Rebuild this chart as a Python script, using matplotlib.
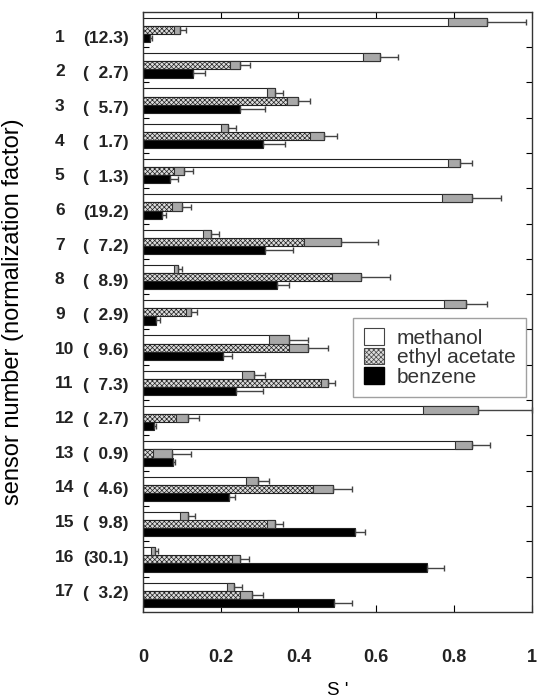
#!/usr/bin/env python3
"""
Normalized sensor responses S' of a 17-sensor array to three solvent vapours,
grouped horizontal bars with error bars, normalization factor shown per sensor.
"""

import matplotlib
matplotlib.use('Agg')
import matplotlib.pyplot as plt
import numpy as np

plt.rcParams['font.family'] = ['Liberation Sans', 'DejaVu Sans']
plt.rcParams['hatch.linewidth'] = 0.5

# ──────────────────────────────────────────────
# data
# ──────────────────────────────────────────────

SENSORS = list(range(1, 18))
FACTORS = [12.3, 2.7, 5.7, 1.7, 1.3, 19.2, 7.2, 8.9, 2.9, 9.6, 7.3, 2.7, 0.9, 4.6, 9.8, 30.1, 3.2]

METHANOL = [0.885, 0.61, 0.34, 0.22, 0.815, 0.845, 0.175, 0.09, 0.83,
            0.375, 0.285, 0.86, 0.847, 0.295, 0.115, 0.03, 0.235]
METHANOL_ERR = [0.10, 0.045, 0.02, 0.02, 0.03, 0.075, 0.02, 0.01, 0.055,
                0.05, 0.03, 0.14, 0.045, 0.03, 0.02, 0.008, 0.02]

ETHYL = [0.095, 0.25, 0.40, 0.465, 0.105, 0.10, 0.51, 0.56, 0.125,
         0.425, 0.475, 0.115, 0.075, 0.488, 0.34, 0.25, 0.28]
ETHYL_ERR = [0.015, 0.025, 0.03, 0.035, 0.025, 0.025, 0.095, 0.075, 0.015,
             0.05, 0.018, 0.03, 0.05, 0.05, 0.02, 0.022, 0.03]

BENZENE = [0.018, 0.13, 0.25, 0.31, 0.07, 0.048, 0.315, 0.345, 0.035,
           0.205, 0.24, 0.028, 0.077, 0.222, 0.545, 0.73, 0.49]
BENZENE_ERR = [0.005, 0.03, 0.065, 0.055, 0.02, 0.012, 0.07, 0.03, 0.008,
               0.025, 0.07, 0.005, 0.005, 0.015, 0.025, 0.045, 0.047]

X_TICKS = [0, 0.2, 0.4, 0.6, 0.8, 1]
X_TICK_LABELS = ['0', '0.2', '0.4', '0.6', '0.8', '1']

BAR_H = 0.23


def draw_series(ax, y, values, errs, face, hatch=None, box=True):
    values = np.array(values)
    errs = np.array(errs)
    ax.barh(y, values, height=BAR_H, color=face, edgecolor='#222222',
            linewidth=0.8, hatch=hatch, zorder=2)
    if box:
        # shaded band covering the last err of the bar
        ax.barh(y, errs, left=values - errs, height=BAR_H, color='#a8a8a8',
                edgecolor='#333333', linewidth=0.8, zorder=3)
    ax.errorbar(values, y, xerr=[np.zeros_like(errs), errs], fmt='none',
                ecolor='#444444', elinewidth=1.0, capsize=2.5, capthick=1.0,
                zorder=4, clip_on=False)


fig = plt.figure(figsize=(5.39, 7.0), dpi=100)
ax = fig.add_axes([0.265, 0.126, 0.722, 0.857])

y = np.array(SENSORS, dtype=float)
draw_series(ax, y - 0.215, METHANOL, METHANOL_ERR, 'white')
draw_series(ax, y + 0.015, ETHYL, ETHYL_ERR, '#dcdcdc', hatch='xxxxxxx')
draw_series(ax, y + 0.245, BENZENE, BENZENE_ERR, 'black', box=False)

ax.set_xlim(0, 1)
ax.set_ylim(17.5, 0.5)

# x axis
ax.set_xticks(X_TICKS)
ax.set_xticklabels(X_TICK_LABELS, fontsize=13, fontweight='bold', color='#222222')
ax.tick_params(axis='x', direction='in', length=5, width=0.8, top=True, pad=27)
ax.set_xlabel("S '", fontsize=13.5, va='center')
ax.xaxis.set_label_coords(0.5, -0.132)

# y axis: group boundaries as ticks, labels per sensor
label_y = np.linspace(1.22, 16.93, len(SENSORS))
ax.set_yticks(label_y)
ax.set_yticklabels(['({:4.1f})'.format(f).replace(' ', '\u2007') for f in FACTORS],
                   fontsize=12.5, fontweight='bold', color='#222222')
ax.set_yticks(np.arange(1.5, 17.5, 1.0), minor=True)
ax.tick_params(axis='y', which='major', length=0, pad=10)
ax.tick_params(axis='y', which='minor', direction='in', length=4, width=0.8, right=True)

trans = matplotlib.transforms.blended_transform_factory(ax.transAxes, ax.transData)
for n, ly in zip(SENSORS, label_y):
    ax.text(-0.226, ly, str(n), transform=trans, ha='left', va='center',
            fontsize=12.5, fontweight='bold', color='#222222')

ax.set_ylabel('sensor number (normalization factor)', fontsize=17)
ax.yaxis.set_label_coords(-0.305, 0.5)

for spine in ax.spines.values():
    spine.set_linewidth(1.0)
    spine.set_color('#333333')

handles = [
    matplotlib.patches.Patch(facecolor='white', edgecolor='#444444', linewidth=0.8),
    matplotlib.patches.Patch(facecolor='#dcdcdc', edgecolor='#444444', linewidth=0.8, hatch='xxxxxxx'),
    matplotlib.patches.Patch(facecolor='black', edgecolor='black'),
]
leg = ax.legend(handles, ['methanol', 'ethyl acetate', 'benzene'],
                loc='upper right', bbox_to_anchor=(0.985, 0.49),
                fontsize=15, frameon=True, fancybox=False,
                handlelength=1.0, handleheight=0.85, handletextpad=0.6,
                labelspacing=0.0, borderpad=0.5, borderaxespad=0)
leg.get_frame().set_edgecolor('#888888')
leg.get_frame().set_linewidth(1.0)
for t in leg.get_texts():
    t.set_color('#333333')

fig.savefig('out.png', dpi=100)
